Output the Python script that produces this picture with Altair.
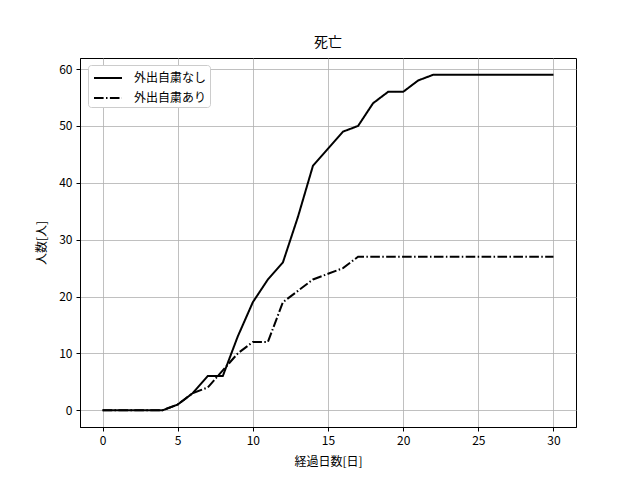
import altair as alt
import pandas as pd

days = list(range(0, 31))
no_restraint = [0, 0, 0, 0, 0, 1, 3, 6, 6, 13, 19, 23, 26, 34, 43, 46, 49, 50, 54, 56, 56, 58, 59,
                59, 59, 59, 59, 59, 59, 59, 59]
restraint = [0, 0, 0, 0, 0, 1, 3, 4, 7, 10, 12, 12, 19, 21, 23, 24, 25, 27, 27, 27, 27, 27, 27,
             27, 27, 27, 27, 27, 27, 27, 27]
series_names = ["外出自粛なし", "外出自粛あり"]

rows = []
for d, v in zip(days, no_restraint):
    rows.append({"day": d, "value": v, "series": series_names[0]})
for d, v in zip(days, restraint):
    rows.append({"day": d, "value": v, "series": series_names[1]})
df = pd.DataFrame(rows)

FONT = "Noto Sans CJK JP"

chart = alt.Chart(df).mark_line(strokeWidth=2, clip=True).encode(
    x=alt.X("day:Q", title="経過日数[日]",
            scale=alt.Scale(domain=[-1.5, 31.5], nice=False, zero=False),
            axis=alt.Axis(values=[0, 5, 10, 15, 20, 25, 30], format="d")),
    y=alt.Y("value:Q", title="人数[人]",
            scale=alt.Scale(domain=[-2.95, 61.95], nice=False, zero=False),
            axis=alt.Axis(values=[0, 10, 20, 30, 40, 50, 60], format="d")),
    color=alt.Color("series:N", sort=series_names,
                    scale=alt.Scale(domain=series_names, range=["black", "black"]),
                    legend=alt.Legend(title=None)),
    strokeDash=alt.StrokeDash("series:N", sort=series_names,
                              scale=alt.Scale(domain=series_names,
                                              range=[[1, 0], [9.6, 2.4, 1.5, 2.4]]),
                              legend=alt.Legend(title=None)),
).properties(
    width=496, height=369,
    title=alt.TitleParams("死亡", font=FONT, fontSize=14, fontWeight="normal", offset=8),
    autosize=alt.AutoSizeParams(type="none"),
    padding={"left": 72, "top": 50, "right": 56, "bottom": 45},
).configure_view(
    stroke="black", strokeWidth=1
).configure_axis(
    grid=True, gridColor="#b0b0b0", gridWidth=0.8,
    domainColor="black", domainWidth=1,
    tickColor="black", tickSize=4, tickWidth=1,
    labelFont=FONT, labelFontSize=12, labelColor="black", labelPadding=4,
    titleFont=FONT, titleFontSize=12, titleColor="black", titleFontWeight="normal",
).configure_axisX(titlePadding=10).configure_axisY(titlePadding=10).configure_legend(
    orient="none", legendX=8, legendY=7,
    fillColor="white", strokeColor="#cccccc", cornerRadius=3, padding=3,
    symbolType="M-0.778,0H2.333", symbolSize=324, symbolStrokeWidth=2,
    symbolStrokeColor="black", symbolFillColor="transparent",
    labelFont=FONT, labelFontSize=12, labelColor="black", labelOffset=23,
    rowPadding=4,
)

chart.save("out.html", embed_options={"renderer": "svg", "actions": False})
